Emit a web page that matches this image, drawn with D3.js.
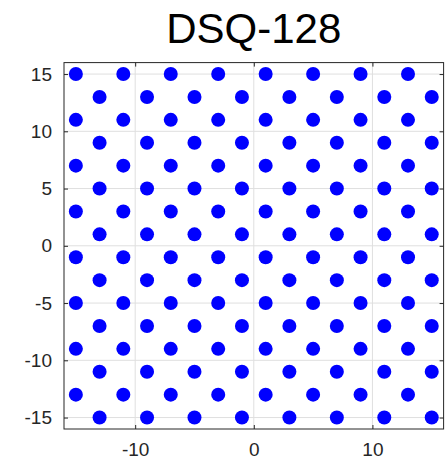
<!DOCTYPE html>
<html>
<head>
<meta charset="utf-8">
<script src="https://cdn.jsdelivr.net/npm/d3@7"></script>
<style>
body{margin:0;background:#fff;}
text{font-family:"Liberation Sans",Arial,Helvetica,sans-serif;}
</style>
</head>
<body>
<div id="chart"></div>
<script>
// constellation rows
var rowsA=[15,11,7,3,-1,-5,-9,-13];//rows whose first point is at x=-15
var rowsB=[13,9,5,1,-3,-7,-11,-15];//rows shifted by 2
var colsA=[-15,-11,-7,-3,1,5,9,13];
var colsB=[-13,-9,-5,-1,3,7,11,15];
var xTicks=[-10,0,10];
var yTicks=[-15,-10,-5,0,5,10,15];
var title="DSQ-128";

var width=448,height=462;
var mLeft=64,mRight=443.6,mTop=62.6,mBottom=429;//plot box (window.top is reserved)

var points=[];
rowsA.forEach(function(y){colsA.forEach(function(x){points.push({x:x,y:y});});});
rowsB.forEach(function(y){colsB.forEach(function(x){points.push({x:x,y:y});});});

var svg=d3.select("#chart").append("svg")
	.attr("width",width)
	.attr("height",height);

var x=d3.scaleLinear().domain([-16,16]).range([mLeft,mRight]);
var y=d3.scaleLinear().domain([-16,16]).range([mBottom,mTop]);
var fmt=function(d){return String(d);};//plain hyphen minus like the reference

//grid
svg.append("g").selectAll("line").data(xTicks).enter().append("line")
	.attr("x1",function(d){return x(d);}).attr("x2",function(d){return x(d);})
	.attr("y1",mTop).attr("y2",mBottom)
	.attr("stroke","#dfdfdf").attr("stroke-width",1);
svg.append("g").selectAll("line").data(yTicks).enter().append("line")
	.attr("y1",function(d){return y(d);}).attr("y2",function(d){return y(d);})
	.attr("x1",mLeft).attr("x2",mRight)
	.attr("stroke","#dfdfdf").attr("stroke-width",1);

//points
svg.append("g").selectAll("circle").data(points).enter().append("circle")
	.attr("cx",function(d){return x(d.x);})
	.attr("cy",function(d){return y(d.y);})
	.attr("r",7)
	.attr("fill","#0000ff");

//axes, ticks inward
var axB=svg.append("g").attr("transform","translate(0,"+mBottom+")")
	.call(d3.axisBottom(x).tickValues(xTicks).tickSizeInner(-4).tickSizeOuter(0).tickPadding(14).tickFormat(fmt));
var axT=svg.append("g").attr("transform","translate(0,"+mTop+")")
	.call(d3.axisTop(x).tickValues(xTicks).tickSizeInner(-4).tickSizeOuter(0).tickFormat(""));
var axL=svg.append("g").attr("transform","translate("+mLeft+",0)")
	.call(d3.axisLeft(y).tickValues(yTicks).tickSizeInner(-4).tickSizeOuter(0).tickPadding(12).tickFormat(fmt));
var axR=svg.append("g").attr("transform","translate("+mRight+",0)")
	.call(d3.axisRight(y).tickValues(yTicks).tickSizeInner(-4).tickSizeOuter(0).tickFormat(""));
[axB,axT,axL,axR].forEach(function(a){
	a.select(".domain").remove();
	a.selectAll("line").attr("stroke","#262626");
	a.selectAll("text").attr("font-size","19px").attr("fill","#262626")
		.style("font-family","'Liberation Sans',Arial,sans-serif");
});
axB.selectAll("text").attr("dy","0.71em");

//box
svg.append("rect")
	.attr("x",mLeft).attr("y",mTop)
	.attr("width",mRight-mLeft).attr("height",mBottom-mTop)
	.attr("fill","none").attr("stroke","#262626").attr("stroke-width",1);

svg.append("text")
	.attr("x",(mLeft+mRight)/2).attr("y",43)
	.attr("text-anchor","middle")
	.attr("font-size","42px")
	.attr("fill","#000")
	.text(title);
</script>
</body>
</html>
